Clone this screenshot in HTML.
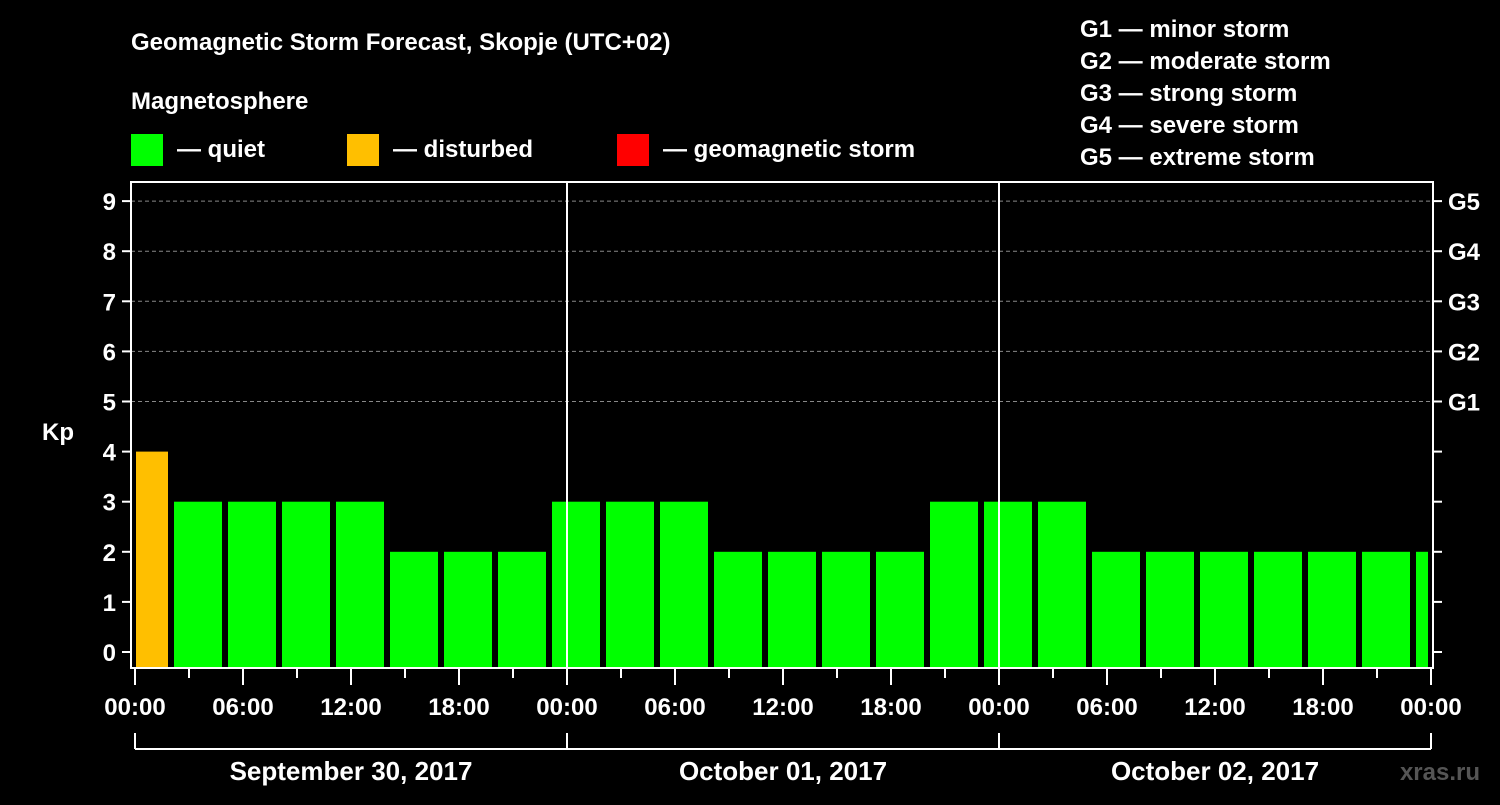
<!DOCTYPE html>
<html><head><meta charset="utf-8"><style>
html,body{margin:0;padding:0;background:#000;}
svg text{font-family:"Liberation Sans",Arial,sans-serif;font-weight:bold;fill:#fff;}
</style></head><body>
<svg id="chart" width="1500" height="800" viewBox="0 0 1500 800" xmlns="http://www.w3.org/2000/svg">
<rect x="0" y="0" width="1500" height="800" fill="#000"/>
<text x="131" y="50" font-size="24">Geomagnetic Storm Forecast, Skopje (UTC+02)</text>
<text x="131" y="109" font-size="24">Magnetosphere</text>
<g><rect x="131" y="134" width="32" height="32" fill="#00ff00"/><text x="177" y="157" font-size="24">— quiet</text></g>
<g><rect x="347" y="134" width="32" height="32" fill="#ffbf00"/><text x="393" y="157" font-size="24">— disturbed</text></g>
<g><rect x="617" y="134" width="32" height="32" fill="#ff0000"/><text x="663" y="157" font-size="24">— geomagnetic storm</text></g>
<g font-size="24">
<text x="1080" y="37">G1 — minor storm</text>
<text x="1080" y="69">G2 — moderate storm</text>
<text x="1080" y="101">G3 — strong storm</text>
<text x="1080" y="133">G4 — severe storm</text>
<text x="1080" y="165">G5 — extreme storm</text>
</g>
<g id="grid"></g>
<g id="bars"></g>
<g id="axes"></g>
<text x="1480" y="780" font-size="24" fill="#555" style="fill:#555" text-anchor="end">xras.ru</text>
</svg>
<script>
const kpValues=[4,3,3,3,3,2,2,2,3,3,3,2,2,2,2,3,3,3,2,2,2,2,2,2,2];
const barStartHours=[-1,2,5,8,11,14,17,20,23,26,29,32,35,38,41,44,47,50,53,56,59,62,65,68,71];
const yTicks=[0,1,2,3,4,5,6,7,8,9];
const gLabels=["G1","G2","G3","G4","G5"];
const gLevels=[5,6,7,8,9];
const xTickLabels=["00:00","06:00","12:00","18:00","00:00","06:00","12:00","18:00","00:00","06:00","12:00","18:00","00:00"];
const dayLabels=["September 30, 2017","October 01, 2017","October 02, 2017"];
const NS="http://www.w3.org/2000/svg";
const L=131,R=1433,T=182,B=668;
const X=h=>135+h*18;
const Y=k=>652-k*50.1;
function mk(tag,attrs,parent){const e=document.createElementNS(NS,tag);for(const k in attrs)e.setAttribute(k,attrs[k]);document.getElementById(parent).appendChild(e);return e;}
// grid
gLevels.forEach(k=>{const e=mk('line',{x1:L,x2:R,y1:Y(k),y2:Y(k),stroke:'#888','stroke-dasharray':'4,3','stroke-width':1},'grid');

});
// bars
kpValues.forEach((v,i)=>{let x0=X(barStartHours[i])+3,x1=X(barStartHours[i]+3)-3;x0=Math.max(x0,L+5);x1=Math.min(x1,R-5);
const c=v>=5?'#ff0000':(v>=4?'#ffbf00':'#00ff00');
const e=mk('rect',{x:x0,y:Y(v),width:x1-x0,height:B-Y(v),fill:c},'bars');

});
// day separators
[1,2].forEach(d=>{const e=mk('line',{x1:X(24*d),x2:X(24*d),y1:T,y2:B,stroke:'#fff','stroke-width':2},'axes');

});
// frame
const fr=mk('rect',{x:L,y:T,width:R-L,height:B-T,fill:'none',stroke:'#fff','stroke-width':2},'axes');


// y ticks
yTicks.forEach(k=>{mk('line',{x1:L-9,x2:L,y1:Y(k),y2:Y(k),stroke:'#fff','stroke-width':2},'axes');
mk('line',{x1:R,x2:R+9,y1:Y(k),y2:Y(k),stroke:'#fff','stroke-width':2},'axes');
const t=mk('text',{x:116,y:Y(k)+9,'font-size':24,'text-anchor':'end'},'axes');t.textContent=k;

});
gLabels.forEach((g,i)=>{const t=mk('text',{x:1448,y:Y(gLevels[i])+9,'font-size':24},'axes');t.textContent=g;

});
const kp=mk('text',{x:42,y:440,'font-size':24},'axes');kp.textContent='Kp';


// x ticks
for(let h=0;h<=72;h+=3){const maj=h%6===0;mk('line',{x1:X(h),x2:X(h),y1:B,y2:B+(maj?17:10),stroke:'#fff','stroke-width':2},'axes');}
xTickLabels.forEach((s,i)=>{const t=mk('text',{x:X(i*6),y:715,'font-size':24,'text-anchor':'middle'},'axes');t.textContent=s;

});
// day brackets
mk('line',{x1:X(0),x2:X(72),y1:749,y2:749,stroke:'#fff','stroke-width':2},'axes');
[0,1,2,3].forEach(d=>mk('line',{x1:X(24*d),x2:X(24*d),y1:733,y2:749,stroke:'#fff','stroke-width':2},'axes'));
dayLabels.forEach((s,i)=>{const t=mk('text',{x:X(24*i+12),y:780,'font-size':26,'text-anchor':'middle'},'axes');t.textContent=s;

});
</script>
</body></html>
